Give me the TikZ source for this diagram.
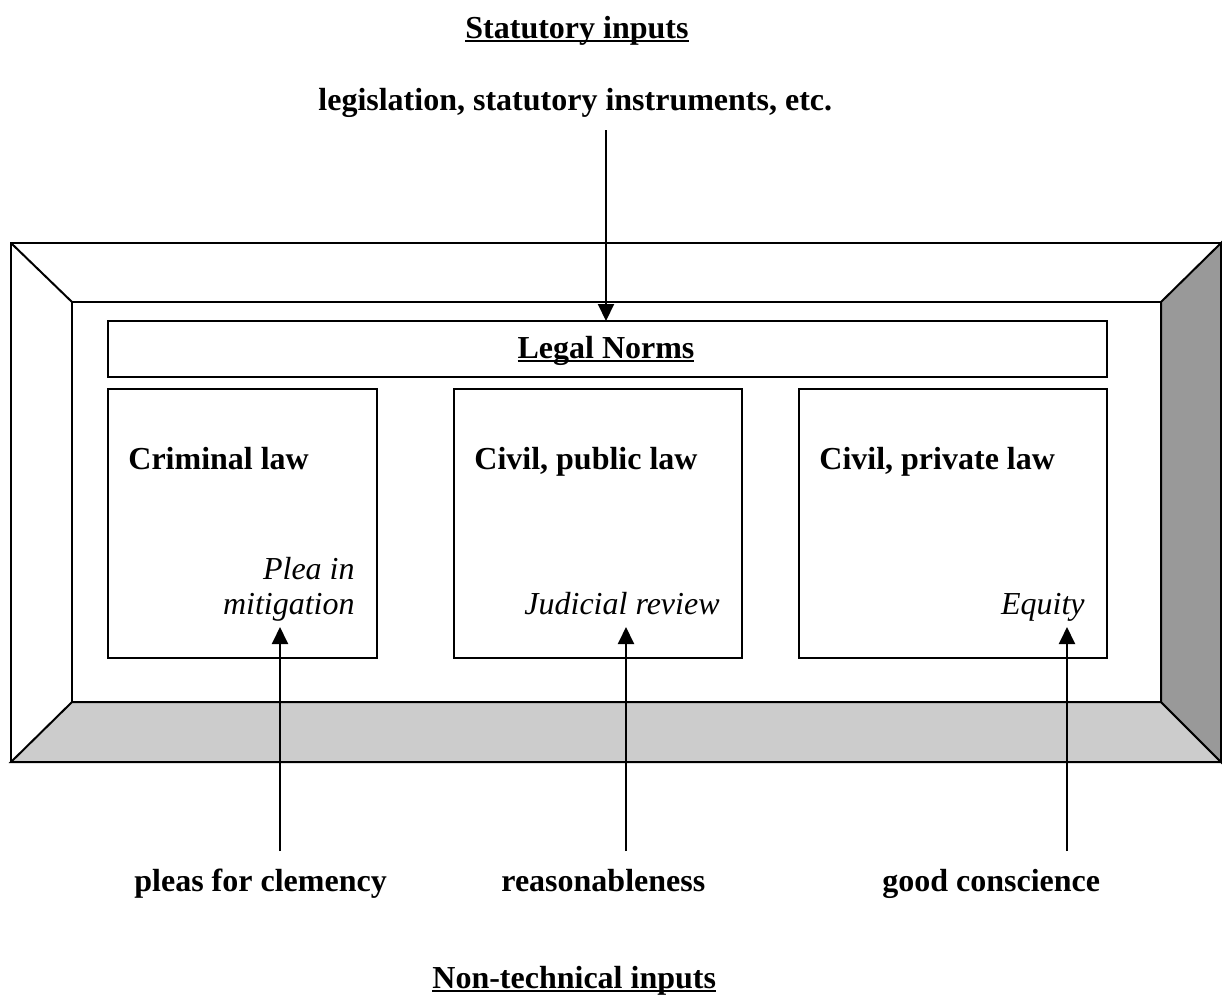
\documentclass[tikz,border=0pt]{standalone}
\usepackage{fontspec}
\setmainfont{Liberation Serif}
\usetikzlibrary{arrows.meta}
\newcommand{\wordul}[1]{\setbox0\hbox{#1}\rlap{\rule[-2pt]{\wd0}{0.9pt}}\box0}
\begin{document}
\begin{tikzpicture}[x=0.5pt,y=-0.5pt,
  ln/.style={line width=1pt},
  box/.style={draw,line width=1pt,inner sep=0pt},
  lbl/.style={font=\fontsize{16}{19}\selectfont\bfseries,inner sep=0pt},
  itl/.style={font=\fontsize{16}{17.5}\selectfont\itshape,inner sep=0pt,align=right},
  arr/.style={line width=1pt,-{Triangle[length=8.5pt,width=8pt]}}]
\useasboundingbox (0,0) rectangle (1222,998);
% bevel frame
\fill[white] (11,243) rectangle (1221,762);
\filldraw[ln,fill=black!20] (11,762) -- (72,702) -- (1161,702) -- (1221,762) -- cycle;
\filldraw[ln,fill=black!40] (1221,243) -- (1161,302) -- (1161,702) -- (1221,762) -- cycle;
\draw[ln] (11,243) rectangle (1221,762);
\draw[ln] (72,302) rectangle (1161,702);
\draw[ln] (11,243) -- (72,302);
% inner boxes
\node[box,minimum width=499.5pt,minimum height=28pt,anchor=north west] (norms) at (107,320) {};
\node[lbl,anchor=base] (normst) at (606,358) {\wordul{Legal Norms}};
\node[box,minimum width=134.5pt,minimum height=134.5pt,anchor=north west] (crim) at (107,388) {};
\node[box,minimum width=144pt,minimum height=134.5pt,anchor=north west] (pub) at (453,388) {};
\node[box,minimum width=154pt,minimum height=134.5pt,anchor=north west] (priv) at (798,388) {};
\node[lbl,anchor=base west] (crimt) at (128,469) {Criminal law};
\node[lbl,anchor=base west] (pubt) at (474,469) {Civil, public law};
\node[lbl,anchor=base west] (privt) at (819,469) {Civil, private law};
\node[itl,anchor=base east] (plea) at (355,614) {Plea in\\mitigation};
\node[itl,anchor=base east] (jr) at (720,614) {Judicial review};
\node[itl,anchor=base east] (eq) at (1085,614) {Equity};
% top
\node[lbl,anchor=base west] (stat) at (465,38) {\wordul{Statutory inputs}};
\node[lbl,anchor=base west] (legis) at (318,110) {legislation, statutory instruments, etc.};
\coordinate (legisfoot) at (606,130);
\coordinate (normstop) at (606,321);
\draw[arr] (legisfoot) -- (normstop);
% bottom
\node[lbl,anchor=base west] (clem) at (134,891) {pleas for clemency};
\node[lbl,anchor=base west] (reas) at (501,891) {reasonableness};
\node[lbl,anchor=base west] (cons) at (882,891) {good conscience};
\node[lbl,anchor=base west] (nontech) at (432,988) {\wordul{Non-technical inputs}};
\coordinate (c1) at (280,851); \coordinate (c1t) at (280,627);
\coordinate (c2) at (626,851); \coordinate (c2t) at (626,627);
\coordinate (c3) at (1067,851); \coordinate (c3t) at (1067,627);
\draw[arr] (c1) -- (c1t);
\draw[arr] (c2) -- (c2t);
\draw[arr] (c3) -- (c3t);
\end{tikzpicture}
\end{document}
